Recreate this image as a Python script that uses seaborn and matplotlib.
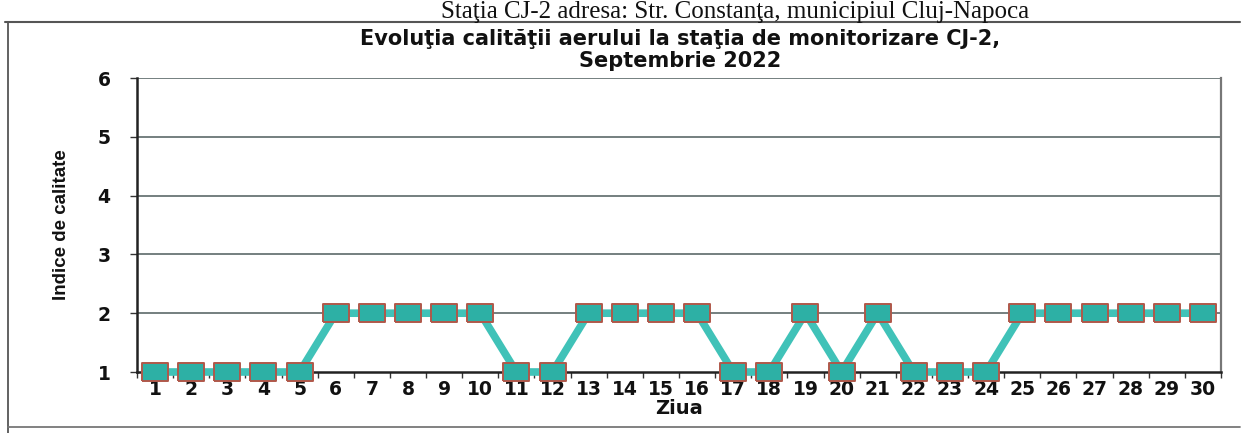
import numpy as np
import pandas as pd
import matplotlib
matplotlib.use("Agg")
import matplotlib.pyplot as plt
import seaborn as sns
from matplotlib.lines import Line2D

days = list(range(1, 31))
indice = [1, 1, 1, 1, 1, 2, 2, 2, 2, 2,
          1, 1, 2, 2, 2, 2, 1, 1, 2, 1,
          2, 1, 1, 1, 2, 2, 2, 2, 2, 2]
y_ticks = [1, 2, 3, 4, 5, 6]

title_text = "Evoluţia calităţii aerului la staţia de monitorizare CJ-2,\nSeptembrie 2022"
header_text = "Staţia CJ-2 adresa: Str. Constanţa, municipiul Cluj-Napoca"
xlabel = "Ziua"
ylabel = "Indice de calitate"

df = pd.DataFrame({"Ziua": days, "Indice": indice})

sns.set_theme(style="white")
plt.rcParams["font.family"] = ["DejaVu Sans"]

W, H = 1256, 433
fig = plt.figure(figsize=(W / 100, H / 100), dpi=100)
fig.patch.set_facecolor("white")

ax = fig.add_axes([137 / W, 1 - 372 / H, (1221 - 137) / W, (372 - 78) / H])

rect = [(-1.45, -1), (1.45, -1), (1.45, 1), (-1.45, 1), (-1.45, -1)]
sns.lineplot(data=df, x="Ziua", y="Indice", ax=ax, color="#40c2b8", lw=5.5,
             marker=rect, markersize=19, markerfacecolor="#2db0a5",
             markeredgecolor="#b0584a", markeredgewidth=1.4, zorder=3,
             clip_on=False)

ax.set_xlim(0.5, 30.5)
ax.set_ylim(1, 6)
ax.set_yticks(y_ticks)
ax.set_xticks(days)
ax.set_xticks(np.arange(0.5, 31, 1), minor=True)
ax.set_xticklabels([str(d) for d in days], fontsize=13.5, fontweight="bold", color="#111111")
ax.set_yticklabels([str(v) for v in y_ticks], fontsize=13.5, fontweight="bold", color="#111111")
ax.tick_params(axis="x", which="major", length=0, pad=6)
ax.tick_params(axis="x", which="minor", length=4, width=1, color="#333333", direction="out", bottom=True)
ax.tick_params(axis="y", which="major", length=5, width=1, color="#333333", direction="out", left=True, pad=14)

for v in y_ticks[1:]:
    ax.axhline(v, color="#4e5c5c", lw=1.1, zorder=1)

for s in ["left", "bottom"]:
    ax.spines[s].set_color("#222222")
    ax.spines[s].set_linewidth(1.8)
ax.spines["right"].set_color("#777777")
ax.spines["right"].set_linewidth(1.6)
ax.spines["top"].set_visible(False)

ax.set_xlabel(xlabel, fontsize=14, fontweight="bold", color="#111111", labelpad=0)
ax.set_ylabel(ylabel, fontsize=13.5, fontweight="bold", color="#111111",
              family=["Liberation Sans Narrow", "Liberation Sans"], labelpad=20)

fig.text(680 / W, 1 - 29 / H, title_text, ha="center", va="top", fontsize=15,
         fontweight="bold", color="#111111", linespacing=1.12)

fig.text(735 / W, 1 - 18 / H, header_text, ha="center", va="baseline", fontsize=18,
         family=["Liberation Serif"], color="#111111")

# outer frame of the scanned page chart box
fig.add_artist(Line2D([5 / W, 1240 / W], [1 - 22 / H, 1 - 22 / H], color="#555555", lw=1.5))
fig.add_artist(Line2D([8 / W, 8 / W], [1 - 22 / H, 0], color="#555555", lw=1.3))
fig.add_artist(Line2D([8 / W, 1240 / W], [1 - 427 / H, 1 - 427 / H], color="#777777", lw=1.3))

fig.savefig("out.png", dpi=100, facecolor="white")
